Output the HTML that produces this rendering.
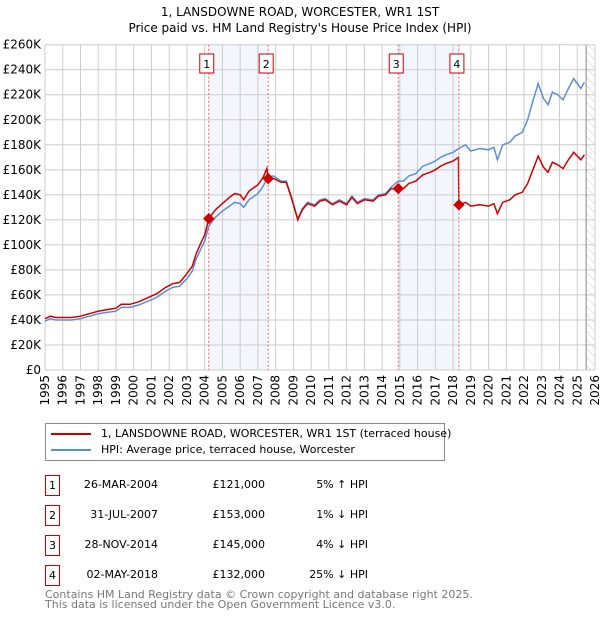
<!DOCTYPE html>
<html><head><meta charset="utf-8"><style>
body{margin:0;background:#fff;font-family:"DejaVu Sans","Liberation Sans",sans-serif;}
#wrap{position:relative;width:600px;height:620px;overflow:hidden}
svg text{font-family:"DejaVu Sans","Liberation Sans",sans-serif}
</style></head><body><div id="wrap">
<svg id="chart" width="600" height="620">
<defs><pattern id="hatch" width="6" height="6" patternUnits="userSpaceOnUse" patternTransform="rotate(-45)"><line x1="0" y1="0" x2="0" y2="6" stroke="#ccc" stroke-width="1"/></pattern></defs>
<text x="300" y="16" text-anchor="middle" font-size="12">1, LANSDOWNE ROAD, WORCESTER, WR1 1ST</text>
<text x="300" y="32" text-anchor="middle" font-size="12">Price paid vs. HM Land Registry's House Price Index (HPI)</text>
<g id="grid"></g><g id="marks"></g><g id="axes"></g>
</svg>
<div style="position:absolute;left:45px;top:423px;width:398px;height:36px;border:1px solid #888;font-size:11px">
<div style="position:absolute;left:5px;top:3px;white-space:nowrap"><span style="display:inline-block;width:40px;height:2px;background:#cc0000;vertical-align:middle;margin-right:10px"></span>1, LANSDOWNE ROAD, WORCESTER, WR1 1ST (terraced house)</div>
<div style="position:absolute;left:5px;top:19px;white-space:nowrap"><span style="display:inline-block;width:40px;height:2px;background:#5b8fd4;vertical-align:middle;margin-right:10px"></span>HPI: Average price, terraced house, Worcester</div>
</div>
<div id="table" style="font-size:11px"></div>
<div style="position:absolute;left:45px;top:590px;font-size:11px;color:#777;line-height:10px">Contains HM Land Registry data © Crown copyright and database right 2025.<br>This data is licensed under the Open Government Licence v3.0.</div>
</div>
<script>
const dates=[1995.0,1995.3,1995.6,1996.0,1996.5,1997.0,1997.5,1998.0,1998.5,1999.0,1999.3,1999.8,2000.3,2000.8,2001.3,2001.8,2002.2,2002.6,2003.0,2003.3,2003.5,2003.8,2004.0,2004.23,2004.6,2005.0,2005.4,2005.7,2006.0,2006.2,2006.5,2007.0,2007.3,2007.5,2007.58,2007.9,2008.3,2008.6,2008.9,2009.1,2009.25,2009.5,2009.8,2010.2,2010.5,2010.8,2011.2,2011.6,2012.0,2012.3,2012.6,2013.0,2013.5,2013.8,2014.2,2014.5,2014.91,2015.2,2015.5,2015.9,2016.3,2016.7,2017.0,2017.3,2017.6,2018.0,2018.3,2018.33,2018.7,2019.0,2019.5,2020.0,2020.3,2020.5,2020.8,2021.2,2021.5,2021.9,2022.2,2022.5,2022.8,2023.1,2023.35,2023.6,2023.9,2024.2,2024.5,2024.8,2025.0,2025.2,2025.4];
const hpiValues=[39,41,40,40,40,41,43,45,46,47,50,50,52,55,58,63,66,67,73,79,88,97,103,115,122,127,131,134,133,130,136,141,147,153,155,155,151,151,138,128,121,129,134,132,136,137,133,136,133,139,134,137,136,140,141,146,151,151,155,157,163,165,167,170,172,174,177,177,180,175,177,176,178,168,180,182,187,190,200,215,229,217,212,222,220,216,225,233,229,225,230];
const priceValues=[41,43,42,42,42,43,45,47,48.3,49.4,52.5,52.5,54.6,57.8,61,66,69,70,77,83,92,102,108,121,128,133,138,141,140,136,143,148,154,161,153,153,150,150,137,127,120,128,133,131,135,136,132,135,132,138,133,136,135,139,140,145,145,145,149,151,156,158,160,163,165,167,170,132,134,131,132,131,133,125,134,136,140,142,149,160,171,162,158,166,164,161,168,174,171,168,172];
const saleLabels=["1","2","3","4"];
const saleDates=[2004.23,2007.58,2014.91,2018.33];
const salePrices=[121,153,145,132];
const saleDateText=["26-MAR-2004","31-JUL-2007","28-NOV-2014","02-MAY-2018"];
const salePriceText=["£121,000","£153,000","£145,000","£132,000"];
const saleDiffText=["5% ↑ HPI","1% ↓ HPI","4% ↓ HPI","25% ↓ HPI"];
const yTicks=[0,20,40,60,80,100,120,140,160,180,200,220,240,260];
const xTicks=[1995,1996,1997,1998,1999,2000,2001,2002,2003,2004,2005,2006,2007,2008,2009,2010,2011,2012,2013,2014,2015,2016,2017,2018,2019,2020,2021,2022,2023,2024,2025,2026];

const X0=45,X1=595,Y0=370,Y1=44.7;
const x=t=>X0+(t-1995)/(2026-1995)*(X1-X0);
const y=v=>Y0-v/260*(Y0-Y1);
const NS="http://www.w3.org/2000/svg";
function mk(tag,attrs,parent){const e=document.createElementNS(NS,tag);for(const k in attrs)e.setAttribute(k,attrs[k]);parent.appendChild(e);return e;}
const grid=document.getElementById('grid'),marks=document.getElementById('marks'),axes=document.getElementById('axes');
[[0,1],[2,3]].forEach((p,i)=>{const r=mk('rect',{x:x(saleDates[p[0]]),y:Y1,width:x(saleDates[p[1]])-x(saleDates[p[0]]),height:Y0-Y1,fill:'#f3f6fd'},grid);

});
const hr=mk('rect',{x:x(2025.5),y:Y1,width:X1-x(2025.5),height:Y0-Y1,fill:'url(#hatch)'},grid);


yTicks.forEach(v=>{mk('line',{x1:X0,x2:X1,y1:y(v),y2:y(v),stroke:'#ccc','stroke-width':1},grid);
const t=mk('text',{x:X0-4,y:y(v)+4,'text-anchor':'end','font-size':12},axes);t.textContent=v===0?'£0':'£'+v+'K';

});
xTicks.forEach(v=>{mk('line',{x1:x(v),x2:x(v),y1:Y1,y2:Y0,stroke:'#ccc','stroke-width':1},grid);
const tx=x(v)+4,ty=Y0+5;
const t=mk('text',{x:tx,y:ty,'text-anchor':'end','font-size':12,transform:`rotate(-90 ${tx} ${ty})`},axes);t.textContent=v;

});
mk('line',{x1:x(2025.5),x2:x(2025.5),y1:Y1,y2:Y0,stroke:'#888','stroke-width':1},grid);
const pts=a=>a.map((v,i)=>x(dates[i]).toFixed(1)+','+y(v).toFixed(1)).join(' ');
const hl=mk('polyline',{points:pts(hpiValues),fill:'none',stroke:'#5b8fd4','stroke-width':1.5},marks);


const pl=mk('polyline',{points:pts(priceValues),fill:'none',stroke:'#cc0000','stroke-width':1.5},marks);


saleDates.forEach((d,i)=>{
mk('line',{x1:x(d),x2:x(d),y1:Y1,y2:Y0,stroke:'#f06060','stroke-width':1,'stroke-dasharray':'2,2'},marks);
const m=mk('rect',{x:x(d)-4,y:y(salePrices[i])-4,width:8,height:8,fill:'#cc0000',transform:`rotate(45 ${x(d)} ${y(salePrices[i])})`},marks);


const b=mk('rect',{x:x(d)-9,y:54,width:14,height:19,fill:'#fff',stroke:'#cc0000','stroke-width':1},marks);


const t=mk('text',{x:x(d)-2,y:68,'text-anchor':'middle','font-size':11},marks);t.textContent=saleLabels[i];
});
const tb=document.getElementById('table');
saleLabels.forEach((l,i)=>{const top=475+i*30;
const row=document.createElement('div');


row.style.cssText=`position:absolute;left:0;top:${top}px;width:600px;height:20px`;
row.innerHTML=`<div style="position:absolute;left:45px;top:0;width:13px;height:19px;border:1px solid #cc0000;text-align:center;line-height:19px">${l}</div>
<div style="position:absolute;left:60px;width:98px;text-align:right;line-height:20px">${saleDateText[i]}</div>
<div style="position:absolute;left:160px;width:105px;text-align:right;line-height:20px">${salePriceText[i]}</div>
<div style="position:absolute;left:270px;width:98px;text-align:right;line-height:20px">${saleDiffText[i]}</div>`;
tb.appendChild(row);});
</script></body></html>
